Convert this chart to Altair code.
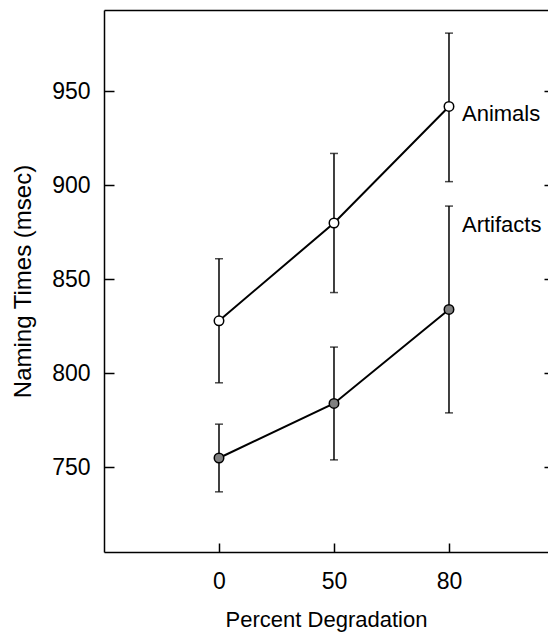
import altair as alt
import pandas as pd

# ---- data ----
degradation = ["0", "50", "80"]
series_names = ["Animals", "Artifacts"]
animals_mean = [828, 880, 942]
animals_lo = [795, 843, 902]
animals_hi = [861, 917, 981]
artifacts_mean = [755, 784, 834]
artifacts_lo = [737, 754, 779]
artifacts_hi = [773, 814, 889]
label_values = [938, 879]
y_ticks = [750, 800, 850, 900, 950]

rows = []
for name, m, lo, hi in [
    ("Animals", animals_mean, animals_lo, animals_hi),
    ("Artifacts", artifacts_mean, artifacts_lo, artifacts_hi),
]:
    for i, d in enumerate(degradation):
        rows.append(dict(series=name, pos=i, deg=d, mean=m[i], lo=lo[i], hi=hi[i]))
df = pd.DataFrame(rows)
lab = pd.DataFrame({"series": series_names, "pos": [len(degradation) - 1] * 2, "yv": label_values})

XD = [-1, 2.861]
YD = [705, 993.3]
FONT = "Liberation Sans"
label_expr = "[" + ",".join("'%s'" % d for d in degradation) + "][datum.value]"


def X(axis=None):
    return alt.X("pos:Q", scale=alt.Scale(domain=XD, nice=False, zero=False), axis=axis)


def Y(field, axis=None):
    return alt.Y(field, scale=alt.Scale(domain=YD, nice=False, zero=False), axis=axis)


main_y_axis = alt.Axis(
    orient="left", offset=-10, tickSize=10, tickWidth=1.5, domain=False, grid=False,
    values=y_ticks, labelFontSize=23, labelPadding=14,
    title="Naming Times (msec)", titleFontSize=24, titlePadding=16,
)
main_x_axis = alt.Axis(
    orient="bottom", offset=-9, tickSize=9, tickWidth=1.5, domain=False, grid=False,
    values=[0, 1, 2], labelExpr=label_expr, labelFontSize=23, labelPadding=18,
    title="Percent Degradation", titleFontSize=22, titlePadding=16,
)
spine_y = alt.Axis(orient="left", domain=True, domainWidth=1.5, ticks=False, labels=False,
                   grid=False, title=None)
spine_x = alt.Axis(orient="bottom", domain=True, domainWidth=1.5, ticks=False, labels=False,
                   grid=False, title=None)
right_axis = alt.Axis(orient="right", offset=-4, tickSize=4, tickWidth=1.5, domain=False,
                      labels=False, grid=False, values=y_ticks, title=None)
top_axis = alt.Axis(orient="top", domain=True, domainWidth=1.5, ticks=False, labels=False,
                    grid=False, title=None)

base = alt.Chart(df)

rules = base.mark_rule(color="black", strokeWidth=1.5).encode(
    x=X(spine_x), y=Y("lo:Q", spine_y), y2="hi:Q"
)
caps_lo = base.mark_tick(orient="horizontal", size=8, thickness=1.5, color="black").encode(
    x=X(), y=Y("lo:Q")
)
caps_hi = base.mark_tick(orient="horizontal", size=8, thickness=1.5, color="black").encode(
    x=X(), y=Y("hi:Q")
)
lines = base.mark_line(color="black", strokeWidth=2).encode(
    x=X(main_x_axis), y=Y("mean:Q", main_y_axis), detail="series:N"
)
points = base.mark_point(shape="circle", filled=True, size=90, stroke="black",
                         strokeWidth=1.5, opacity=1).encode(
    x=X(), y=Y("mean:Q"),
    fill=alt.Fill("series:N", scale=alt.Scale(domain=series_names, range=["white", "#808080"]),
                  legend=None),
)
texts = alt.Chart(lab).mark_text(align="left", baseline="middle", dx=13, fontSize=22,
                                 font=FONT, color="black").encode(
    x=X(top_axis), y=Y("yv:Q", right_axis), text="series:N"
)

chart = (
    alt.layer(rules, caps_lo, caps_hi, lines, points, texts)
    .resolve_scale(x="independent", y="independent")
    .properties(
        width=444, height=542,
        autosize=alt.AutoSizeParams(type="none"),
        padding={"left": 96, "top": 2, "right": 0, "bottom": 81},
        background="white",
    )
    .configure_view(stroke=None)
    .configure_axis(labelFont=FONT, titleFont=FONT, labelColor="black", titleColor="black",
                    tickColor="black", domainColor="black", titleFontWeight="normal")
)

chart.save("out.html", embed_options={"renderer": "svg", "actions": False})
